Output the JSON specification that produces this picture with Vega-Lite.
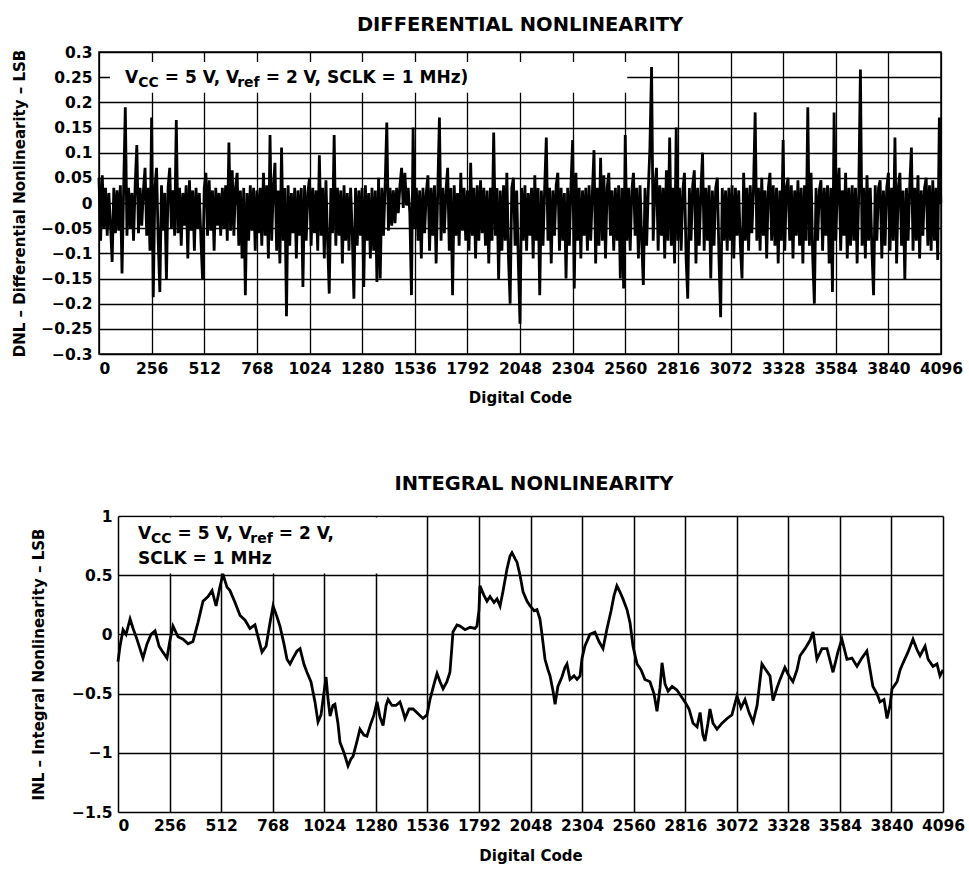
{
"$schema": "https://vega.github.io/schema/vega-lite/v6.json",
"padding": {"left": 12, "top": 13, "right": 0, "bottom": 0},
"autosize": {"type": "pad"},
"config": {
  "font": "DejaVu Sans",
  "view": {"stroke": "black", "strokeWidth": 1.5},
  "axis": {"grid": true, "gridColor": "black", "gridOpacity": 1, "gridWidth": 1.3, "domain": false, "ticks": false,
    "labelFont": "DejaVu Sans", "labelFontWeight": "bold", "labelFontSize": 15.5, "labelColor": "black",
    "titleFont": "DejaVu Sans", "titleFontWeight": "bold", "titleFontSize": 15, "titleColor": "black"},
  "title": {"font": "DejaVu Sans", "fontSize": 19.5, "fontWeight": "bold", "color": "black"}
},
"datasets": {
"dnl": [
{"c":0,"v":0.05},{"c":8,"v":-0.075},{"c":16,"v":0.055},{"c":24,"v":-0.05},{"c":32,"v":0.03},{"c":40,"v":-0.065},{"c":48,"v":0.02},{"c":56,"v":-0.045},{"c":64,"v":-0.117},{"c":72,"v":0.03},{"c":80,"v":-0.06},{"c":88,"v":0.025},{"c":96,"v":-0.055},{"c":104,"v":0.035},{"c":112,"v":-0.14},{"c":120,"v":0.03},
{"c":128,"v":0.19},{"c":136,"v":-0.065},{"c":144,"v":0.03},{"c":152,"v":-0.05},{"c":160,"v":0.02},{"c":168,"v":-0.075},{"c":176,"v":0.035},{"c":184,"v":0.115},{"c":192,"v":-0.06},{"c":200,"v":0.03},{"c":208,"v":-0.045},{"c":216,"v":0.025},{"c":224,"v":0.07},{"c":232,"v":-0.065},{"c":240,"v":0.03},{"c":248,"v":-0.095},
{"c":256,"v":0.17},{"c":264,"v":-0.187},{"c":272,"v":0.03},{"c":280,"v":0.07},{"c":288,"v":-0.075},{"c":296,"v":-0.177},{"c":304,"v":0.035},{"c":312,"v":-0.055},{"c":320,"v":0.02},{"c":328,"v":-0.153},{"c":336,"v":0.03},{"c":344,"v":0.07},{"c":352,"v":-0.05},{"c":360,"v":0.025},{"c":368,"v":-0.065},{"c":376,"v":0.165},
{"c":384,"v":-0.06},{"c":392,"v":0.03},{"c":400,"v":-0.085},{"c":408,"v":0.02},{"c":416,"v":-0.045},{"c":424,"v":0.035},{"c":432,"v":-0.11},{"c":440,"v":0.045},{"c":448,"v":-0.055},{"c":456,"v":0.025},{"c":464,"v":-0.095},{"c":472,"v":0.03},{"c":480,"v":-0.05},{"c":488,"v":0.02},{"c":496,"v":-0.075},{"c":504,"v":-0.153},
{"c":512,"v":0.03},{"c":520,"v":0.06},{"c":528,"v":-0.065},{"c":536,"v":0.045},{"c":544,"v":-0.055},{"c":552,"v":0.025},{"c":560,"v":-0.095},{"c":568,"v":0.03},{"c":576,"v":-0.045},{"c":584,"v":0.02},{"c":592,"v":-0.065},{"c":600,"v":0.03},{"c":608,"v":-0.05},{"c":616,"v":0.035},{"c":624,"v":-0.075},{"c":632,"v":0.12},
{"c":640,"v":-0.055},{"c":648,"v":0.065},{"c":656,"v":-0.065},{"c":664,"v":0.03},{"c":672,"v":0.06},{"c":680,"v":-0.085},{"c":688,"v":0.025},{"c":696,"v":-0.11},{"c":704,"v":0.03},{"c":712,"v":-0.183},{"c":720,"v":0.02},{"c":728,"v":-0.075},{"c":736,"v":0.035},{"c":744,"v":-0.055},{"c":752,"v":0.03},{"c":760,"v":-0.095},
{"c":768,"v":0.025},{"c":776,"v":-0.06},{"c":784,"v":0.03},{"c":792,"v":-0.085},{"c":800,"v":0.06},{"c":808,"v":-0.065},{"c":816,"v":0.035},{"c":824,"v":-0.11},{"c":832,"v":0.135},{"c":840,"v":-0.075},{"c":848,"v":0.03},{"c":856,"v":0.08},{"c":864,"v":-0.095},{"c":872,"v":0.025},{"c":880,"v":-0.12},{"c":888,"v":0.11},
{"c":896,"v":-0.075},{"c":904,"v":0.03},{"c":912,"v":-0.225},{"c":920,"v":0.035},{"c":928,"v":-0.085},{"c":936,"v":0.02},{"c":944,"v":-0.06},{"c":952,"v":0.03},{"c":960,"v":-0.11},{"c":968,"v":0.025},{"c":976,"v":-0.065},{"c":984,"v":0.03},{"c":992,"v":-0.167},{"c":1000,"v":0.035},{"c":1008,"v":-0.075},{"c":1016,"v":0.02},
{"c":1024,"v":0.05},{"c":1032,"v":-0.085},{"c":1040,"v":0.03},{"c":1048,"v":-0.06},{"c":1056,"v":0.025},{"c":1064,"v":-0.095},{"c":1072,"v":0.095},{"c":1080,"v":-0.065},{"c":1088,"v":0.03},{"c":1096,"v":-0.11},{"c":1104,"v":0.045},{"c":1112,"v":-0.075},{"c":1120,"v":-0.18},{"c":1128,"v":0.03},{"c":1136,"v":-0.06},{"c":1144,"v":0.135},
{"c":1152,"v":-0.085},{"c":1160,"v":0.03},{"c":1168,"v":-0.065},{"c":1176,"v":0.025},{"c":1184,"v":-0.12},{"c":1192,"v":0.035},{"c":1200,"v":-0.075},{"c":1208,"v":0.02},{"c":1216,"v":-0.095},{"c":1224,"v":0.03},{"c":1232,"v":-0.06},{"c":1240,"v":-0.19},{"c":1248,"v":0.03},{"c":1256,"v":-0.085},{"c":1264,"v":0.025},{"c":1272,"v":-0.065},
{"c":1280,"v":0.03},{"c":1288,"v":-0.167},{"c":1296,"v":0.035},{"c":1304,"v":-0.075},{"c":1312,"v":0.02},{"c":1320,"v":-0.11},{"c":1328,"v":0.03},{"c":1336,"v":-0.095},{"c":1344,"v":0.025},{"c":1352,"v":-0.157},{"c":1360,"v":0.05},{"c":1368,"v":-0.15},{"c":1376,"v":0.03},{"c":1384,"v":-0.065},{"c":1392,"v":0.035},{"c":1400,"v":0.16},
{"c":1408,"v":-0.055},{"c":1416,"v":0.03},{"c":1424,"v":-0.045},{"c":1432,"v":0.025},{"c":1440,"v":-0.04},{"c":1448,"v":0.03},{"c":1456,"v":-0.02},{"c":1464,"v":0.035},{"c":1472,"v":0.07},{"c":1480,"v":-0.01},{"c":1488,"v":0.06},{"c":1496,"v":-0.005},{"c":1504,"v":0.03},{"c":1512,"v":-0.02},{"c":1520,"v":-0.183},{"c":1528,"v":0.15},
{"c":1536,"v":-0.05},{"c":1544,"v":0.03},{"c":1552,"v":-0.075},{"c":1560,"v":0.025},{"c":1568,"v":-0.11},{"c":1576,"v":0.03},{"c":1584,"v":-0.06},{"c":1592,"v":0.02},{"c":1600,"v":0.055},{"c":1608,"v":-0.095},{"c":1616,"v":0.03},{"c":1624,"v":-0.065},{"c":1632,"v":0.035},{"c":1640,"v":-0.12},{"c":1648,"v":0.025},{"c":1656,"v":0.17},
{"c":1664,"v":-0.075},{"c":1672,"v":0.03},{"c":1680,"v":-0.06},{"c":1688,"v":0.025},{"c":1696,"v":0.07},{"c":1704,"v":-0.095},{"c":1712,"v":0.03},{"c":1720,"v":-0.183},{"c":1728,"v":0.035},{"c":1736,"v":-0.065},{"c":1744,"v":0.02},{"c":1752,"v":-0.085},{"c":1760,"v":0.06},{"c":1768,"v":-0.055},{"c":1776,"v":0.03},{"c":1784,"v":-0.075},
{"c":1792,"v":0.025},{"c":1800,"v":-0.095},{"c":1808,"v":0.08},{"c":1816,"v":-0.065},{"c":1824,"v":0.03},{"c":1832,"v":-0.11},{"c":1840,"v":0.035},{"c":1848,"v":-0.075},{"c":1856,"v":0.045},{"c":1864,"v":-0.06},{"c":1872,"v":0.03},{"c":1880,"v":-0.085},{"c":1888,"v":0.025},{"c":1896,"v":-0.12},{"c":1904,"v":0.03},{"c":1912,"v":-0.075},
{"c":1920,"v":0.14},{"c":1928,"v":-0.065},{"c":1936,"v":0.03},{"c":1944,"v":-0.153},{"c":1952,"v":0.025},{"c":1960,"v":-0.095},{"c":1968,"v":0.035},{"c":1976,"v":-0.075},{"c":1984,"v":0.06},{"c":1992,"v":-0.11},{"c":2000,"v":-0.2},{"c":2008,"v":0.03},{"c":2016,"v":0.05},{"c":2024,"v":-0.085},{"c":2032,"v":0.025},{"c":2040,"v":-0.12},
{"c":2048,"v":-0.24},{"c":2056,"v":0.03},{"c":2064,"v":-0.075},{"c":2072,"v":0.035},{"c":2080,"v":-0.095},{"c":2088,"v":0.02},{"c":2096,"v":-0.065},{"c":2104,"v":0.03},{"c":2112,"v":-0.11},{"c":2120,"v":0.055},{"c":2128,"v":-0.075},{"c":2136,"v":0.03},{"c":2144,"v":-0.183},{"c":2152,"v":0.025},{"c":2160,"v":-0.085},{"c":2168,"v":0.03},
{"c":2176,"v":0.13},{"c":2184,"v":-0.075},{"c":2192,"v":0.03},{"c":2200,"v":-0.12},{"c":2208,"v":0.025},{"c":2216,"v":-0.065},{"c":2224,"v":0.035},{"c":2232,"v":0.06},{"c":2240,"v":-0.095},{"c":2248,"v":0.03},{"c":2256,"v":-0.075},{"c":2264,"v":0.02},{"c":2272,"v":-0.15},{"c":2280,"v":0.03},{"c":2288,"v":-0.085},{"c":2296,"v":0.035},
{"c":2304,"v":0.125},{"c":2312,"v":-0.17},{"c":2320,"v":0.06},{"c":2328,"v":-0.075},{"c":2336,"v":0.03},{"c":2344,"v":-0.11},{"c":2352,"v":0.025},{"c":2360,"v":-0.065},{"c":2368,"v":0.03},{"c":2376,"v":-0.095},{"c":2384,"v":0.035},{"c":2392,"v":-0.075},{"c":2400,"v":0.02},{"c":2408,"v":0.105},{"c":2416,"v":-0.12},{"c":2424,"v":0.03},
{"c":2432,"v":-0.085},{"c":2440,"v":0.09},{"c":2448,"v":-0.075},{"c":2456,"v":0.055},{"c":2464,"v":-0.11},{"c":2472,"v":0.03},{"c":2480,"v":0.06},{"c":2488,"v":-0.065},{"c":2496,"v":0.025},{"c":2504,"v":-0.095},{"c":2512,"v":0.03},{"c":2520,"v":-0.075},{"c":2528,"v":0.035},{"c":2536,"v":-0.15},{"c":2544,"v":0.03},{"c":2552,"v":-0.17},
{"c":2560,"v":0.135},{"c":2568,"v":-0.075},{"c":2576,"v":0.03},{"c":2584,"v":-0.095},{"c":2592,"v":0.025},{"c":2600,"v":0.06},{"c":2608,"v":-0.065},{"c":2616,"v":0.03},{"c":2624,"v":-0.11},{"c":2632,"v":0.035},{"c":2640,"v":-0.075},{"c":2648,"v":-0.163},{"c":2656,"v":0.03},{"c":2664,"v":-0.085},{"c":2672,"v":0.025},{"c":2680,"v":0.11},
{"c":2688,"v":0.27},{"c":2696,"v":-0.075},{"c":2704,"v":0.03},{"c":2712,"v":0.07},{"c":2720,"v":-0.095},{"c":2728,"v":0.035},{"c":2736,"v":-0.065},{"c":2744,"v":0.03},{"c":2752,"v":-0.11},{"c":2760,"v":0.065},{"c":2768,"v":-0.075},{"c":2776,"v":0.13},{"c":2784,"v":-0.085},{"c":2792,"v":0.03},{"c":2800,"v":-0.12},{"c":2808,"v":0.15},
{"c":2816,"v":-0.075},{"c":2824,"v":0.03},{"c":2832,"v":-0.095},{"c":2840,"v":0.025},{"c":2848,"v":0.06},{"c":2856,"v":-0.11},{"c":2864,"v":-0.19},{"c":2872,"v":0.03},{"c":2880,"v":-0.075},{"c":2888,"v":0.035},{"c":2896,"v":0.065},{"c":2904,"v":-0.12},{"c":2912,"v":0.03},{"c":2920,"v":-0.085},{"c":2928,"v":0.025},{"c":2936,"v":0.1},
{"c":2944,"v":-0.095},{"c":2952,"v":0.03},{"c":2960,"v":-0.075},{"c":2968,"v":0.035},{"c":2976,"v":-0.15},{"c":2984,"v":0.025},{"c":2992,"v":-0.085},{"c":3000,"v":0.03},{"c":3008,"v":0.05},{"c":3016,"v":-0.11},{"c":3024,"v":-0.227},{"c":3032,"v":0.03},{"c":3040,"v":-0.075},{"c":3048,"v":0.025},{"c":3056,"v":-0.095},{"c":3064,"v":0.03},
{"c":3072,"v":-0.075},{"c":3080,"v":0.035},{"c":3088,"v":-0.11},{"c":3096,"v":0.03},{"c":3104,"v":-0.065},{"c":3112,"v":0.025},{"c":3120,"v":-0.085},{"c":3128,"v":-0.15},{"c":3136,"v":0.06},{"c":3144,"v":-0.075},{"c":3152,"v":0.03},{"c":3160,"v":-0.095},{"c":3168,"v":0.035},{"c":3176,"v":-0.06},{"c":3184,"v":0.03},{"c":3192,"v":0.18},
{"c":3200,"v":-0.075},{"c":3208,"v":0.03},{"c":3216,"v":-0.095},{"c":3224,"v":0.05},{"c":3232,"v":-0.065},{"c":3240,"v":0.025},{"c":3248,"v":-0.11},{"c":3256,"v":0.03},{"c":3264,"v":0.06},{"c":3272,"v":-0.075},{"c":3280,"v":0.035},{"c":3288,"v":-0.085},{"c":3296,"v":0.03},{"c":3304,"v":-0.12},{"c":3312,"v":0.025},{"c":3320,"v":-0.075},
{"c":3328,"v":0.125},{"c":3336,"v":-0.095},{"c":3344,"v":0.03},{"c":3352,"v":0.05},{"c":3360,"v":-0.075},{"c":3368,"v":0.035},{"c":3376,"v":-0.11},{"c":3384,"v":0.025},{"c":3392,"v":-0.065},{"c":3400,"v":0.045},{"c":3408,"v":-0.085},{"c":3416,"v":0.03},{"c":3424,"v":-0.12},{"c":3432,"v":0.035},{"c":3440,"v":-0.075},{"c":3448,"v":0.19},
{"c":3456,"v":-0.085},{"c":3464,"v":0.06},{"c":3472,"v":-0.11},{"c":3480,"v":-0.2},{"c":3488,"v":0.03},{"c":3496,"v":-0.075},{"c":3504,"v":0.025},{"c":3512,"v":0.045},{"c":3520,"v":-0.095},{"c":3528,"v":0.03},{"c":3536,"v":-0.065},{"c":3544,"v":0.035},{"c":3552,"v":-0.12},{"c":3560,"v":0.03},{"c":3568,"v":-0.177},{"c":3576,"v":0.18},
{"c":3584,"v":-0.075},{"c":3592,"v":0.03},{"c":3600,"v":0.07},{"c":3608,"v":-0.095},{"c":3616,"v":0.025},{"c":3624,"v":-0.065},{"c":3632,"v":0.06},{"c":3640,"v":-0.11},{"c":3648,"v":0.03},{"c":3656,"v":-0.085},{"c":3664,"v":0.035},{"c":3672,"v":-0.075},{"c":3680,"v":0.03},{"c":3688,"v":-0.12},{"c":3696,"v":0.025},{"c":3704,"v":0.265},
{"c":3712,"v":-0.085},{"c":3720,"v":0.03},{"c":3728,"v":-0.11},{"c":3736,"v":0.055},{"c":3744,"v":-0.075},{"c":3752,"v":0.03},{"c":3760,"v":-0.095},{"c":3768,"v":-0.183},{"c":3776,"v":0.035},{"c":3784,"v":-0.075},{"c":3792,"v":0.03},{"c":3800,"v":0.045},{"c":3808,"v":-0.11},{"c":3816,"v":0.025},{"c":3824,"v":-0.085},{"c":3832,"v":0.03},
{"c":3840,"v":0.06},{"c":3848,"v":-0.095},{"c":3856,"v":0.03},{"c":3864,"v":-0.075},{"c":3872,"v":0.13},{"c":3880,"v":-0.12},{"c":3888,"v":0.03},{"c":3896,"v":0.06},{"c":3904,"v":-0.085},{"c":3912,"v":0.025},{"c":3920,"v":-0.153},{"c":3928,"v":0.03},{"c":3936,"v":-0.075},{"c":3944,"v":0.035},{"c":3952,"v":0.11},{"c":3960,"v":-0.095},
{"c":3968,"v":0.03},{"c":3976,"v":-0.075},{"c":3984,"v":0.055},{"c":3992,"v":-0.11},{"c":4000,"v":0.025},{"c":4008,"v":-0.065},{"c":4016,"v":0.03},{"c":4024,"v":0.05},{"c":4032,"v":-0.085},{"c":4040,"v":0.035},{"c":4048,"v":-0.095},{"c":4056,"v":0.045},{"c":4064,"v":-0.075},{"c":4072,"v":0.03},{"c":4080,"v":-0.113},{"c":4088,"v":0.17},
{"c":4095,"v":0.0}
],
"inl": [
{"c":0,"v":-0.23},{"c":10,"v":-0.1},{"c":25,"v":0.04},{"c":40,"v":0.0},{"c":60,"v":0.13},{"c":75,"v":0.05},{"c":94,"v":-0.04},{"c":109,"v":-0.12},{"c":124,"v":-0.2},{"c":144,"v":-0.08},{"c":164,"v":0.0},{"c":184,"v":0.03},{"c":204,"v":-0.1},{"c":223,"v":-0.15},{"c":243,"v":-0.2},{"c":258,"v":-0.05},{"c":273,"v":0.07},{"c":298,"v":-0.02},{"c":323,"v":-0.04},{"c":348,"v":-0.08},{"c":372,"v":-0.06},{"c":397,"v":0.1},{"c":422,"v":0.28},{"c":447,"v":0.32},{"c":467,"v":0.37},{"c":487,"v":0.24},{"c":506,"v":0.4},{"c":521,"v":0.51},{"c":541,"v":0.4},{"c":556,"v":0.37},{"c":581,"v":0.27},{"c":606,"v":0.16},{"c":631,"v":0.12},{"c":655,"v":0.05},{"c":680,"v":0.08},{"c":700,"v":-0.05},{"c":715,"v":-0.15},{"c":735,"v":-0.1},{"c":755,"v":0.1},{"c":770,"v":0.24},{"c":789,"v":0.15},{"c":804,"v":0.07},{"c":824,"v":-0.08},{"c":839,"v":-0.21},{"c":854,"v":-0.25},{"c":869,"v":-0.2},{"c":889,"v":-0.14},{"c":904,"v":-0.12},{"c":923,"v":-0.25},{"c":938,"v":-0.32},{"c":958,"v":-0.4},{"c":978,"v":-0.57},{"c":993,"v":-0.74},{"c":1008,"v":-0.68},{"c":1018,"v":-0.55},{"c":1033,"v":-0.36},{"c":1043,"v":-0.55},{"c":1053,"v":-0.69},{"c":1067,"v":-0.6},{"c":1077,"v":-0.59},{"c":1092,"v":-0.75},{"c":1102,"v":-0.91},{"c":1122,"v":-1.0},{"c":1142,"v":-1.11},{"c":1157,"v":-1.05},{"c":1167,"v":-1.03},{"c":1187,"v":-0.9},{"c":1201,"v":-0.8},{"c":1221,"v":-0.85},{"c":1236,"v":-0.86},{"c":1256,"v":-0.75},{"c":1271,"v":-0.68},{"c":1286,"v":-0.57},{"c":1301,"v":-0.7},{"c":1316,"v":-0.77},{"c":1331,"v":-0.6},{"c":1341,"v":-0.55},{"c":1360,"v":-0.6},{"c":1380,"v":-0.6},{"c":1400,"v":-0.57},{"c":1415,"v":-0.65},{"c":1425,"v":-0.71},{"c":1445,"v":-0.63},{"c":1465,"v":-0.63},{"c":1490,"v":-0.67},{"c":1514,"v":-0.71},{"c":1534,"v":-0.68},{"c":1549,"v":-0.55},{"c":1569,"v":-0.42},{"c":1584,"v":-0.33},{"c":1599,"v":-0.4},{"c":1614,"v":-0.46},{"c":1633,"v":-0.4},{"c":1648,"v":-0.32},{"c":1658,"v":-0.1},{"c":1663,"v":0.02},{"c":1683,"v":0.08},{"c":1698,"v":0.07},{"c":1723,"v":0.04},{"c":1748,"v":0.06},{"c":1772,"v":0.05},{"c":1782,"v":0.07},{"c":1792,"v":0.2},{"c":1797,"v":0.41},{"c":1817,"v":0.33},{"c":1832,"v":0.28},{"c":1847,"v":0.32},{"c":1867,"v":0.27},{"c":1882,"v":0.3},{"c":1897,"v":0.24},{"c":1911,"v":0.36},{"c":1931,"v":0.55},{"c":1946,"v":0.66},{"c":1956,"v":0.69},{"c":1971,"v":0.64},{"c":1981,"v":0.61},{"c":1996,"v":0.5},{"c":2011,"v":0.36},{"c":2031,"v":0.28},{"c":2046,"v":0.24},{"c":2066,"v":0.2},{"c":2080,"v":0.21},{"c":2095,"v":0.13},{"c":2105,"v":0.0},{"c":2120,"v":-0.21},{"c":2135,"v":-0.3},{"c":2145,"v":-0.35},{"c":2160,"v":-0.48},{"c":2170,"v":-0.59},{"c":2184,"v":-0.44},{"c":2204,"v":-0.36},{"c":2219,"v":-0.28},{"c":2229,"v":-0.25},{"c":2244,"v":-0.38},{"c":2264,"v":-0.35},{"c":2279,"v":-0.38},{"c":2294,"v":-0.35},{"c":2304,"v":-0.2},{"c":2318,"v":-0.1},{"c":2343,"v":0.0},{"c":2368,"v":0.02},{"c":2388,"v":-0.06},{"c":2408,"v":-0.12},{"c":2428,"v":0.05},{"c":2448,"v":0.2},{"c":2463,"v":0.33},{"c":2477,"v":0.41},{"c":2492,"v":0.36},{"c":2507,"v":0.3},{"c":2527,"v":0.21},{"c":2542,"v":0.1},{"c":2557,"v":-0.1},{"c":2577,"v":-0.25},{"c":2597,"v":-0.3},{"c":2616,"v":-0.38},{"c":2641,"v":-0.4},{"c":2661,"v":-0.5},{"c":2676,"v":-0.65},{"c":2691,"v":-0.45},{"c":2701,"v":-0.24},{"c":2716,"v":-0.42},{"c":2731,"v":-0.48},{"c":2751,"v":-0.44},{"c":2775,"v":-0.47},{"c":2795,"v":-0.52},{"c":2815,"v":-0.57},{"c":2835,"v":-0.63},{"c":2855,"v":-0.75},{"c":2875,"v":-0.78},{"c":2890,"v":-0.66},{"c":2904,"v":-0.85},{"c":2914,"v":-0.9},{"c":2929,"v":-0.75},{"c":2939,"v":-0.63},{"c":2954,"v":-0.75},{"c":2974,"v":-0.8},{"c":2999,"v":-0.75},{"c":3024,"v":-0.71},{"c":3048,"v":-0.68},{"c":3073,"v":-0.52},{"c":3093,"v":-0.62},{"c":3113,"v":-0.55},{"c":3133,"v":-0.66},{"c":3153,"v":-0.74},{"c":3173,"v":-0.6},{"c":3197,"v":-0.25},{"c":3217,"v":-0.3},{"c":3237,"v":-0.35},{"c":3252,"v":-0.56},{"c":3272,"v":-0.45},{"c":3287,"v":-0.38},{"c":3311,"v":-0.28},{"c":3331,"v":-0.35},{"c":3351,"v":-0.4},{"c":3371,"v":-0.3},{"c":3386,"v":-0.18},{"c":3411,"v":-0.12},{"c":3436,"v":-0.05},{"c":3451,"v":0.02},{"c":3470,"v":-0.21},{"c":3495,"v":-0.12},{"c":3520,"v":-0.12},{"c":3550,"v":-0.32},{"c":3574,"v":-0.15},{"c":3594,"v":-0.04},{"c":3619,"v":-0.21},{"c":3644,"v":-0.2},{"c":3669,"v":-0.27},{"c":3693,"v":-0.2},{"c":3718,"v":-0.14},{"c":3748,"v":-0.44},{"c":3768,"v":-0.5},{"c":3783,"v":-0.57},{"c":3803,"v":-0.55},{"c":3818,"v":-0.71},{"c":3833,"v":-0.6},{"c":3843,"v":-0.46},{"c":3868,"v":-0.4},{"c":3883,"v":-0.3},{"c":3898,"v":-0.24},{"c":3922,"v":-0.15},{"c":3947,"v":-0.04},{"c":3967,"v":-0.13},{"c":3982,"v":-0.18},{"c":4007,"v":-0.1},{"c":4022,"v":-0.21},{"c":4046,"v":-0.27},{"c":4066,"v":-0.25},{"c":4081,"v":-0.35},{"c":4096,"v":-0.3}
]
},
"vconcat": [
{
  "width": 842, "height": 302,
  "title": {"text": "DIFFERENTIAL NONLINEARITY", "offset": 10},
  "layer": [
    {"data": {"name": "dnl"}, "mark": {"type": "line", "color": "black", "strokeWidth": 2.8},
     "encoding": {
       "x": {"field": "c", "type": "quantitative", "scale": {"domain": [0, 4096], "nice": false, "zero": false},
             "axis": {"title":"Digital Code","values":[0,256,512,768,1024,1280,1536,1792,2048,2304,2560,2816,3072,3328,3584,3840,4096],"format":"d","labelPadding":7,"titlePadding":13.5,"labelFlush":false,"labelOverlap":false,"labelAlign":{"condition":{"test":"datum.value === 0","value":"left"},"value":"center"}}},
       "y": {"field": "v", "type": "quantitative", "scale": {"domain": [-0.3, 0.3], "nice": false, "zero": false},
             "axis": {"title":"DNL – Differential Nonlinearity – LSB","values":[-0.3,-0.25,-0.2,-0.15,-0.1,-0.05,0,0.05,0.1,0.15,0.2,0.25,0.3],"format":".2~f","labelPadding":7,"titlePadding":13,"labelOverlap":false}}
     }},
    {"data": {"values": [{}]}, "mark": {"type": "rect", "fill": "white"},
     "encoding": {
       "x": {"datum": 53, "type": "quantitative", "axis": {"title":"Digital Code","values":[0,256,512,768,1024,1280,1536,1792,2048,2304,2560,2816,3072,3328,3584,3840,4096],"format":"d","labelPadding":7,"titlePadding":13.5,"labelFlush":false,"labelOverlap":false,"labelAlign":{"condition":{"test":"datum.value === 0","value":"left"},"value":"center"}}},
       "x2": {"datum": 2570},
       "y": {"datum": 0.219, "type": "quantitative", "axis": {"title":"DNL – Differential Nonlinearity – LSB","values":[-0.3,-0.25,-0.2,-0.15,-0.1,-0.05,0,0.05,0.1,0.15,0.2,0.25,0.3],"format":".2~f","labelPadding":7,"titlePadding":13,"labelOverlap":false}},
       "y2": {"datum": 0.28}}},
    {"data": {"values": [{}]}, "mark": {"type": "text", "align": "left", "baseline": "alphabetic", "fontSize": 17, "fontWeight": "bold", "color": "black"},
     "encoding": {
       "x": {"datum": 126, "type": "quantitative", "axis": {"title":"Digital Code","values":[0,256,512,768,1024,1280,1536,1792,2048,2304,2560,2816,3072,3328,3584,3840,4096],"format":"d","labelPadding":7,"titlePadding":13.5,"labelFlush":false,"labelOverlap":false,"labelAlign":{"condition":{"test":"datum.value === 0","value":"left"},"value":"center"}}},
       "y": {"datum": 0.238, "type": "quantitative", "axis": {"title":"DNL – Differential Nonlinearity – LSB","values":[-0.3,-0.25,-0.2,-0.15,-0.1,-0.05,0,0.05,0.1,0.15,0.2,0.25,0.3],"format":".2~f","labelPadding":7,"titlePadding":13,"labelOverlap":false}},
       "text": {"value": "V"}}},
    {"data": {"values": [{}]}, "mark": {"type": "text", "align": "left", "baseline": "alphabetic", "fontSize": 14, "fontWeight": "bold", "color": "black"},
     "encoding": {
       "x": {"datum": 191, "type": "quantitative", "axis": {"title":"Digital Code","values":[0,256,512,768,1024,1280,1536,1792,2048,2304,2560,2816,3072,3328,3584,3840,4096],"format":"d","labelPadding":7,"titlePadding":13.5,"labelFlush":false,"labelOverlap":false,"labelAlign":{"condition":{"test":"datum.value === 0","value":"left"},"value":"center"}}},
       "y": {"datum": 0.23, "type": "quantitative", "axis": {"title":"DNL – Differential Nonlinearity – LSB","values":[-0.3,-0.25,-0.2,-0.15,-0.1,-0.05,0,0.05,0.1,0.15,0.2,0.25,0.3],"format":".2~f","labelPadding":7,"titlePadding":13,"labelOverlap":false}},
       "text": {"value": "CC"}}},
    {"data": {"values": [{}]}, "mark": {"type": "text", "align": "left", "baseline": "alphabetic", "fontSize": 17, "fontWeight": "bold", "color": "black"},
     "encoding": {
       "x": {"datum": 320, "type": "quantitative", "axis": {"title":"Digital Code","values":[0,256,512,768,1024,1280,1536,1792,2048,2304,2560,2816,3072,3328,3584,3840,4096],"format":"d","labelPadding":7,"titlePadding":13.5,"labelFlush":false,"labelOverlap":false,"labelAlign":{"condition":{"test":"datum.value === 0","value":"left"},"value":"center"}}},
       "y": {"datum": 0.238, "type": "quantitative", "axis": {"title":"DNL – Differential Nonlinearity – LSB","values":[-0.3,-0.25,-0.2,-0.15,-0.1,-0.05,0,0.05,0.1,0.15,0.2,0.25,0.3],"format":".2~f","labelPadding":7,"titlePadding":13,"labelOverlap":false}},
       "text": {"value": "= 5 V, V"}}},
    {"data": {"values": [{}]}, "mark": {"type": "text", "align": "left", "baseline": "alphabetic", "fontSize": 14, "fontWeight": "bold", "color": "black"},
     "encoding": {
       "x": {"datum": 672, "type": "quantitative", "axis": {"title":"Digital Code","values":[0,256,512,768,1024,1280,1536,1792,2048,2304,2560,2816,3072,3328,3584,3840,4096],"format":"d","labelPadding":7,"titlePadding":13.5,"labelFlush":false,"labelOverlap":false,"labelAlign":{"condition":{"test":"datum.value === 0","value":"left"},"value":"center"}}},
       "y": {"datum": 0.23, "type": "quantitative", "axis": {"title":"DNL – Differential Nonlinearity – LSB","values":[-0.3,-0.25,-0.2,-0.15,-0.1,-0.05,0,0.05,0.1,0.15,0.2,0.25,0.3],"format":".2~f","labelPadding":7,"titlePadding":13,"labelOverlap":false}},
       "text": {"value": "ref"}}},
    {"data": {"values": [{}]}, "mark": {"type": "text", "align": "left", "baseline": "alphabetic", "fontSize": 17, "fontWeight": "bold", "color": "black"},
     "encoding": {
       "x": {"datum": 811, "type": "quantitative", "axis": {"title":"Digital Code","values":[0,256,512,768,1024,1280,1536,1792,2048,2304,2560,2816,3072,3328,3584,3840,4096],"format":"d","labelPadding":7,"titlePadding":13.5,"labelFlush":false,"labelOverlap":false,"labelAlign":{"condition":{"test":"datum.value === 0","value":"left"},"value":"center"}}},
       "y": {"datum": 0.238, "type": "quantitative", "axis": {"title":"DNL – Differential Nonlinearity – LSB","values":[-0.3,-0.25,-0.2,-0.15,-0.1,-0.05,0,0.05,0.1,0.15,0.2,0.25,0.3],"format":".2~f","labelPadding":7,"titlePadding":13,"labelOverlap":false}},
       "text": {"value": "= 2 V, SCLK = 1 MHz)"}}}
  ]
},
{
  "width": 844, "height": 296,
  "view": {"stroke": null},
  "title": {"text": "INTEGRAL NONLINEARITY", "offset": 15, "dx": 13},
  "layer": [
    {"data": {"name": "inl"}, "mark": {"type": "line", "color": "black", "strokeWidth": 2.8},
     "encoding": {
       "x": {"field": "c", "type": "quantitative", "scale": {"domain": [0, 4096], "range": [19, 844], "nice": false, "zero": false},
             "axis": {"title":"Digital Code","values":[0,256,512,768,1024,1280,1536,1792,2048,2304,2560,2816,3072,3328,3584,3840,4096],"format":"d","labelPadding":6,"titlePadding":15,"labelFlush":false,"labelOverlap":false,"gridWidth":1.5,"labelAlign":{"condition":{"test":"datum.value === 0","value":"left"},"value":"center"}}},
       "y": {"field": "v", "type": "quantitative", "scale": {"domain": [-1.5, 1], "nice": false, "zero": false},
             "axis": {"title":"INL – Integral Nonlinearity – LSB","values":[-1.5,-1,-0.5,0,0.5,1],"format":".1~f","labelPadding":6,"titlePadding":25,"offset":-19,"gridWidth":1.5,"labelOverlap":false}}
     }},
    {"data": {"values": [{}]}, "mark": {"type": "rect", "fill": "white"},
     "encoding": {
       "x": {"datum": 14, "type": "quantitative", "axis": {"title":"Digital Code","values":[0,256,512,768,1024,1280,1536,1792,2048,2304,2560,2816,3072,3328,3584,3840,4096],"format":"d","labelPadding":6,"titlePadding":15,"labelFlush":false,"labelOverlap":false,"gridWidth":1.5,"labelAlign":{"condition":{"test":"datum.value === 0","value":"left"},"value":"center"}}},
       "x2": {"datum": 1400},
       "y": {"datum": 0.515, "type": "quantitative", "axis": {"title":"INL – Integral Nonlinearity – LSB","values":[-1.5,-1,-0.5,0,0.5,1],"format":".1~f","labelPadding":6,"titlePadding":25,"offset":-19,"gridWidth":1.5,"labelOverlap":false}},
       "y2": {"datum": 0.988}}},
    {"data": {"values": [{}]}, "mark": {"type": "text", "align": "left", "baseline": "alphabetic", "fontSize": 17, "fontWeight": "bold", "color": "black"},
     "encoding": {
       "x": {"datum": 99, "type": "quantitative", "axis": {"title":"Digital Code","values":[0,256,512,768,1024,1280,1536,1792,2048,2304,2560,2816,3072,3328,3584,3840,4096],"format":"d","labelPadding":6,"titlePadding":15,"labelFlush":false,"labelOverlap":false,"gridWidth":1.5,"labelAlign":{"condition":{"test":"datum.value === 0","value":"left"},"value":"center"}}},
       "y": {"datum": 0.806, "type": "quantitative", "axis": {"title":"INL – Integral Nonlinearity – LSB","values":[-1.5,-1,-0.5,0,0.5,1],"format":".1~f","labelPadding":6,"titlePadding":25,"offset":-19,"gridWidth":1.5,"labelOverlap":false}},
       "text": {"value": "V"}}},
    {"data": {"values": [{}]}, "mark": {"type": "text", "align": "left", "baseline": "alphabetic", "fontSize": 14, "fontWeight": "bold", "color": "black"},
     "encoding": {
       "x": {"datum": 164, "type": "quantitative", "axis": {"title":"Digital Code","values":[0,256,512,768,1024,1280,1536,1792,2048,2304,2560,2816,3072,3328,3584,3840,4096],"format":"d","labelPadding":6,"titlePadding":15,"labelFlush":false,"labelOverlap":false,"gridWidth":1.5,"labelAlign":{"condition":{"test":"datum.value === 0","value":"left"},"value":"center"}}},
       "y": {"datum": 0.772, "type": "quantitative", "axis": {"title":"INL – Integral Nonlinearity – LSB","values":[-1.5,-1,-0.5,0,0.5,1],"format":".1~f","labelPadding":6,"titlePadding":25,"offset":-19,"gridWidth":1.5,"labelOverlap":false}},
       "text": {"value": "CC"}}},
    {"data": {"values": [{}]}, "mark": {"type": "text", "align": "left", "baseline": "alphabetic", "fontSize": 17, "fontWeight": "bold", "color": "black"},
     "encoding": {
       "x": {"datum": 296, "type": "quantitative", "axis": {"title":"Digital Code","values":[0,256,512,768,1024,1280,1536,1792,2048,2304,2560,2816,3072,3328,3584,3840,4096],"format":"d","labelPadding":6,"titlePadding":15,"labelFlush":false,"labelOverlap":false,"gridWidth":1.5,"labelAlign":{"condition":{"test":"datum.value === 0","value":"left"},"value":"center"}}},
       "y": {"datum": 0.806, "type": "quantitative", "axis": {"title":"INL – Integral Nonlinearity – LSB","values":[-1.5,-1,-0.5,0,0.5,1],"format":".1~f","labelPadding":6,"titlePadding":25,"offset":-19,"gridWidth":1.5,"labelOverlap":false}},
       "text": {"value": "= 5 V, V"}}},
    {"data": {"values": [{}]}, "mark": {"type": "text", "align": "left", "baseline": "alphabetic", "fontSize": 14, "fontWeight": "bold", "color": "black"},
     "encoding": {
       "x": {"datum": 657, "type": "quantitative", "axis": {"title":"Digital Code","values":[0,256,512,768,1024,1280,1536,1792,2048,2304,2560,2816,3072,3328,3584,3840,4096],"format":"d","labelPadding":6,"titlePadding":15,"labelFlush":false,"labelOverlap":false,"gridWidth":1.5,"labelAlign":{"condition":{"test":"datum.value === 0","value":"left"},"value":"center"}}},
       "y": {"datum": 0.772, "type": "quantitative", "axis": {"title":"INL – Integral Nonlinearity – LSB","values":[-1.5,-1,-0.5,0,0.5,1],"format":".1~f","labelPadding":6,"titlePadding":25,"offset":-19,"gridWidth":1.5,"labelOverlap":false}},
       "text": {"value": "ref"}}},
    {"data": {"values": [{}]}, "mark": {"type": "text", "align": "left", "baseline": "alphabetic", "fontSize": 17, "fontWeight": "bold", "color": "black"},
     "encoding": {
       "x": {"datum": 798, "type": "quantitative", "axis": {"title":"Digital Code","values":[0,256,512,768,1024,1280,1536,1792,2048,2304,2560,2816,3072,3328,3584,3840,4096],"format":"d","labelPadding":6,"titlePadding":15,"labelFlush":false,"labelOverlap":false,"gridWidth":1.5,"labelAlign":{"condition":{"test":"datum.value === 0","value":"left"},"value":"center"}}},
       "y": {"datum": 0.806, "type": "quantitative", "axis": {"title":"INL – Integral Nonlinearity – LSB","values":[-1.5,-1,-0.5,0,0.5,1],"format":".1~f","labelPadding":6,"titlePadding":25,"offset":-19,"gridWidth":1.5,"labelOverlap":false}},
       "text": {"value": "= 2 V,"}}},
    {"data": {"values": [{}]}, "mark": {"type": "text", "align": "left", "baseline": "alphabetic", "fontSize": 17, "fontWeight": "bold", "color": "black"},
     "encoding": {
       "x": {"datum": 99, "type": "quantitative", "axis": {"title":"Digital Code","values":[0,256,512,768,1024,1280,1536,1792,2048,2304,2560,2816,3072,3328,3584,3840,4096],"format":"d","labelPadding":6,"titlePadding":15,"labelFlush":false,"labelOverlap":false,"gridWidth":1.5,"labelAlign":{"condition":{"test":"datum.value === 0","value":"left"},"value":"center"}}},
       "y": {"datum": 0.595, "type": "quantitative", "axis": {"title":"INL – Integral Nonlinearity – LSB","values":[-1.5,-1,-0.5,0,0.5,1],"format":".1~f","labelPadding":6,"titlePadding":25,"offset":-19,"gridWidth":1.5,"labelOverlap":false}},
       "text": {"value": "SCLK = 1 MHz"}}}
  ]
}
],
"spacing": 67
}
